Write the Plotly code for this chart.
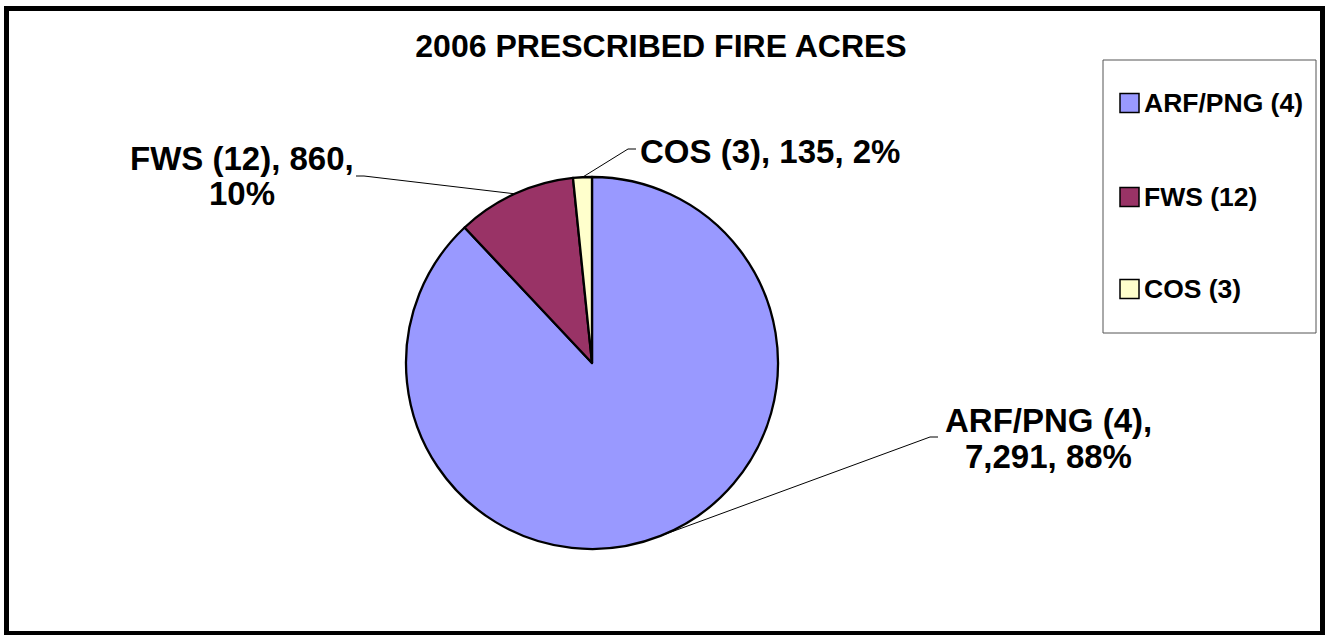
import math
import plotly.graph_objects as go

# ---------------- data ----------------
categories = ["ARF/PNG (4)", "FWS (12)", "COS (3)"]
acres = [7291, 860, 135]
colors = ["#9999FF", "#993366", "#FFFFCC"]
title_text = "2006 PRESCRIBED FIRE ACRES"

# ---------------- layout constants ----------------
W, H = 1326, 635
FONT = "Liberation Sans, Arial, sans-serif"


def px(x):
    return x / W


def py(y):
    return 1 - y / H


# pie placement (pixels)
pie_l, pie_r, pie_t, pie_b = 406, 778, 177, 549
cx, cy = (pie_l + pie_r) / 2, (pie_t + pie_b) / 2
rad = (pie_b - pie_t) / 2

total = sum(acres)
pcts = [round(v / total * 100) for v in acres]

# label layout: line break index, center x, line y's, leader anchor, direction
label_layout = [
    dict(brk=1, x=1048, y=[420, 456], anchor=(938, 437), side=-1),
    dict(brk=2, x=242, y=[158, 193], anchor=(356, 176), side=1),
    dict(brk=None, x=770, y=[151], anchor=(636, 149), side=-1),
]

fig = go.Figure()
fig.add_trace(go.Pie(
    labels=categories,
    values=acres,
    sort=False,
    direction="clockwise",
    rotation=0,
    marker=dict(colors=colors, line=dict(color="black", width=2.3)),
    textinfo="none",
    hoverinfo="label+value+percent",
    showlegend=False,
    domain=dict(x=[px(pie_l), px(pie_r)], y=[py(pie_b), py(pie_t)]),
))

annotations = []
shapes = []

# outer frame
shapes.append(dict(type="rect", xref="paper", yref="paper",
                   x0=px(6.5), x1=px(1322.5), y0=py(633.5), y1=py(8.5),
                   line=dict(color="black", width=5), layer="above"))

# data labels + leader lines
cum = 0
for i, (cat, v, p) in enumerate(zip(categories, acres, pcts)):
    lay = label_layout[i]
    parts = [cat, f"{v:,}", f"{p}%"]
    if lay["brk"] is None:
        lines = [", ".join(parts)]
    else:
        lines = [", ".join(parts[:lay["brk"]]) + ",", ", ".join(parts[lay["brk"]:])]
    for ln, yy in zip(lines, lay["y"]):
        annotations.append(dict(
            x=px(lay["x"]), y=py(yy), xref="paper", yref="paper",
            text=ln, showarrow=False, xanchor="center", yanchor="middle",
            font=dict(family=FONT, size=33, color="black", weight="bold")))
    mid = (cum + v / 2) / total * 2 * math.pi
    cum += v
    ex = cx + rad * math.sin(mid)
    ey = cy - rad * math.cos(mid)
    ax, ay = lay["anchor"]
    bx = ax + 8 * lay["side"]
    shapes.append(dict(type="path", xref="paper", yref="paper",
                       path=f"M {px(ax)},{py(ay)} L {px(bx)},{py(ay)} L {px(ex)},{py(ey)}",
                       line=dict(color="black", width=1)))

# custom legend
leg_l, leg_r, leg_t, leg_b = 1103, 1316, 60, 333
shapes.append(dict(type="rect", xref="paper", yref="paper",
                   x0=px(leg_l), x1=px(leg_r), y0=py(leg_b), y1=py(leg_t),
                   line=dict(color="#555555", width=1)))
leg_y = [103, 197, 289]
for cat, col, yy in zip(categories, colors, leg_y):
    shapes.append(dict(type="rect", xref="paper", yref="paper",
                       x0=px(1120), x1=px(1139), y0=py(yy + 9.5), y1=py(yy - 9.5),
                       fillcolor=col, line=dict(color="black", width=1.5)))
    annotations.append(dict(
        x=px(1142), y=py(yy), xref="paper", yref="paper",
        text=cat, showarrow=False, xanchor="left", yanchor="middle",
        font=dict(family=FONT, size=26.5, color="black", weight="bold")))

fig.update_layout(
    width=W, height=H,
    margin=dict(l=0, r=0, t=0, b=0),
    paper_bgcolor="white",
    plot_bgcolor="white",
    title=dict(text=title_text, x=px(661), y=py(46), xanchor="center", yanchor="middle",
               xref="paper", yref="paper",
               font=dict(family=FONT, size=32, color="black", weight="bold")),
    annotations=annotations,
    shapes=shapes,
    showlegend=False,
)

fig.write_html("out.html",
               config={"displayModeBar": False},
               post_script="document.body.style.margin='0';document.body.style.overflow='hidden';")
